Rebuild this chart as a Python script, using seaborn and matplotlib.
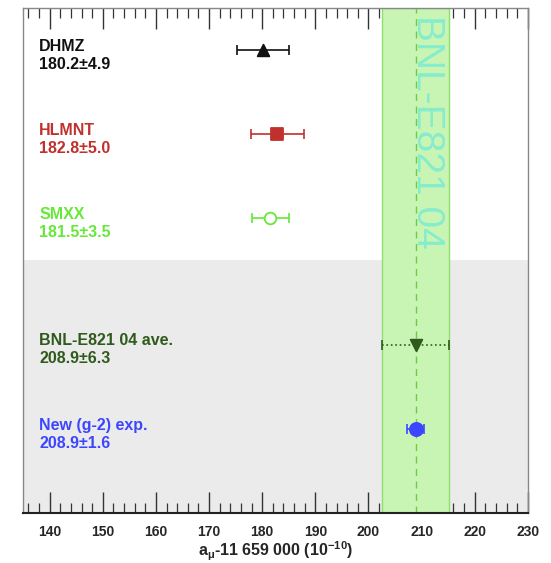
import matplotlib
matplotlib.use("Agg")
import matplotlib.pyplot as plt
from matplotlib.ticker import MultipleLocator
import seaborn as sns
import pandas as pd

# Determinations of the muon anomaly (a_mu - 11 659 000, units of 1e-10)
names = ["DHMZ", "HLMNT", "SMXX", "BNL-E821 04 ave.", "New (g-2) exp."]
values = [180.2, 182.8, 181.5, 208.9, 208.9]
errors = [4.9, 5.0, 3.5, 6.3, 1.6]
rows = [5.5, 4.5, 3.5, 2.0, 1.0]
colors = ["#111111", "#c0302c", "#66e83a", "#2f5a1c", "#3c46ff"]
markers = ["^", "s", "o", "v", "o"]
filled = [True, True, False, True, True]
bar_styles = ["-", "-", "-", ":", "--"]

band_label = "BNL-E821 04"
band_center = 208.9
band_error = 6.3

df = pd.DataFrame({"name": names, "value": values, "error": errors, "row": rows})

sns.set_style("white")
plt.rcParams["font.family"] = ["Liberation Sans", "DejaVu Sans"]
plt.rcParams["font.weight"] = "bold"
plt.rcParams["mathtext.fontset"] = "custom"
plt.rcParams["mathtext.rm"] = "Liberation Sans:bold"
plt.rcParams["mathtext.it"] = "Liberation Sans:bold"

fig = plt.figure(figsize=(5.51, 5.63), dpi=100)
ax = fig.add_axes([0.042, 0.089, 0.916, 0.897])

ax.set_xlim(135, 230)
ax.set_ylim(0, 6)

# shaded lower section for experiments
ax.axhspan(0, 3, color="#ebebeb", zorder=0, lw=0)

# experimental band
ax.axvspan(band_center - band_error, band_center + band_error,
           facecolor="#c8f5b4", edgecolor="#8ee070", lw=1.0, zorder=1)
ax.axvline(band_center, color="#6ccc48", ls=(0, (5, 4)), lw=1.0, zorder=2)
ax.text(band_center + 2.2, 5.92, band_label, rotation=-90, ha="center", va="top",
        fontsize=28, color="#86eccc", fontweight="normal", zorder=3)

# error bars
for v, e, r, c, ls in zip(values, errors, rows, colors, bar_styles):
    eb = ax.errorbar(v, r, xerr=e, fmt="none", ecolor=c, elinewidth=1.2,
                     capsize=3.6, capthick=1.2, zorder=4)
    eb[2][0].set_linestyle(ls)

# central-value markers
for i, row in df.iterrows():
    face = colors[i] if filled[i] else "white"
    sns.scatterplot(x=[row["value"]], y=[row["row"]], marker=markers[i],
                    s=70 if markers[i] != "o" or not filled[i] else 90,
                    color=face, edgecolor=colors[i], linewidth=1.3,
                    ax=ax, zorder=5, legend=False)

# labels on the left
for n, v, e, r, c in zip(names, values, errors, rows, colors):
    ax.text(138.0, r - 0.01, n, color=c, fontsize=11.5, fontweight="bold",
            ha="left", va="baseline")
    ax.text(138.0, r - 0.225, f"{v:.1f}\u00b1{e:.1f}", color=c, fontsize=11.5,
            fontweight="bold", ha="left", va="baseline")

# axis styling
ax.xaxis.set_major_locator(MultipleLocator(10))
ax.xaxis.set_minor_locator(MultipleLocator(2))
ax.tick_params(axis="x", which="major", direction="in", length=15, width=1.0,
               top=True, bottom=True, labelsize=10, color="#333333", pad=9)
ax.tick_params(axis="x", which="minor", direction="in", length=7, width=0.9,
               top=True, bottom=True, color="#333333")
ax.set_xticks(range(140, 231, 10))
for lab in ax.get_xticklabels():
    lab.set_fontweight("bold")
ax.set_yticks([])
ax.set_xlabel(r"a$_{\mu}$-11 659 000 (10$^{-10}$)", fontsize=11.5,
              fontweight="bold", labelpad=0)

for side in ["top", "right", "left"]:
    ax.spines[side].set_color("#888888")
    ax.spines[side].set_linewidth(1.0)
ax.spines["bottom"].set_color("#222222")
ax.spines["bottom"].set_linewidth(1.5)

fig.savefig("out.png", dpi=100)
